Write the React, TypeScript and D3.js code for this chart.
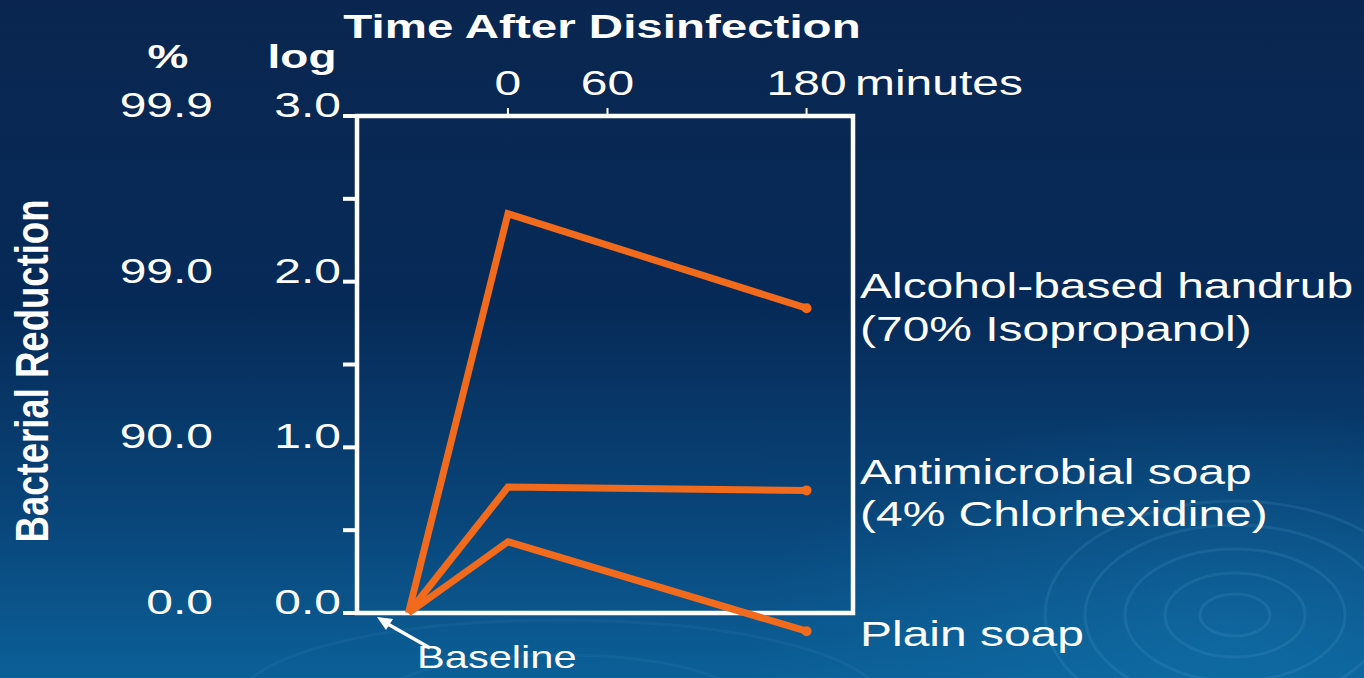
import React from "react";
import * as d3 from "d3";

// minutes after disinfection (-60 = baseline measurement)
const times = [-60, 0, 180];
const alcohol = [0, 2.41, 1.84];
const chlorhexidine = [0, 0.76, 0.74];
const plainSoap = [0, 0.43, -0.11];

const logTicks = [0, 1, 2, 3];
const pctLabels = ["0.0", "90.0", "99.0", "99.9"];
const minorTicks = [0, 0.5, 1, 1.5, 2, 2.5, 3];
const timeTicks = [0, 60, 180];

const seriesLabels = [
	["Alcohol-based handrub", "(70% Isopropanol)"],
	["Antimicrobial soap", "(4% Chlorhexidine)"],
	["Plain soap"],
];

const W = 1364;
const H = 678;
const SX = 1.37; // slide text is stretched horizontally
const FONT = "Liberation Sans, Arial, sans-serif";
const ORANGE = "#f26a1c";

const box = { left: 357, right: 853, top: 116, bottom: 613 };

function SText({ x, y, size, bold, anchor, sx, children }: any) {
	return (
		<g transform={`translate(${x},${y}) scale(${sx || SX},1)`}>
			<text
				fontFamily={FONT}
				fontSize={size}
				fontWeight={bold ? "bold" : "normal"}
				textAnchor={anchor || "start"}
				fill="#ffffff"
			>
				{children}
			</text>
		</g>
	);
}

export default function App() {
	const x = d3.scaleLinear().domain([-91, 208]).range([box.left, box.right]);
	const y = d3.scaleLinear().domain([0, 3]).range([box.bottom, box.top]);

	const line = d3
		.line<number>()
		.x((_, i) => x(times[i]))
		.y((d) => y(d));

	const series = [alcohol, chlorhexidine, plainSoap];
	const labelY = [[298, 341], [484, 526], [646]];

	return (
		<svg
			width={W}
			height={H}
			style={{ position: "fixed", left: 0, top: 0, display: "block" }}
		>
			<defs>
				<linearGradient id="bg" x1="0" y1="0" x2="0" y2="1">
					<stop offset="0" stopColor="#0a2650" />
					<stop offset="0.45" stopColor="#062a58" />
					<stop offset="0.75" stopColor="#094478" />
					<stop offset="1" stopColor="#0b6098" />
				</linearGradient>
				<radialGradient id="glow" cx="0.9" cy="0.95" r="0.35">
					<stop offset="0" stopColor="#1478b0" stopOpacity="0.45" />
					<stop offset="1" stopColor="#1478b0" stopOpacity="0" />
				</radialGradient>
			</defs>
			<rect width={W} height={H} fill="url(#bg)" />
			<rect width={W} height={H} fill="url(#glow)" />

			{/* faint rings, bottom right */}
			{[35, 70, 110, 150, 190].map((r, i) => (
				<ellipse
					key={i}
					cx={1235}
					cy={615}
					rx={r}
					ry={r * 0.6}
					fill="none"
					stroke="#6fb6e0"
					strokeOpacity={0.13}
					strokeWidth={3}
				/>
			))}
			{[90, 160].map((r, i) => (
				<ellipse
					key={"b" + i}
					cx={560}
					cy={700}
					rx={r * 2}
					ry={r * 0.5}
					fill="none"
					stroke="#6fb6e0"
					strokeOpacity={0.07}
					strokeWidth={3}
				/>
			))}

			{/* titles */}
			<SText x={602} y={38} size={33} bold anchor="middle" sx={1.44}>
				Time After Disinfection
			</SText>
			<SText x={168} y={68} size={34} bold anchor="middle" sx={1.35}>
				%
			</SText>
			<SText x={302} y={68} size={34} bold anchor="middle" sx={1.35}>
				log
			</SText>
			<g transform="translate(48,371) rotate(-90)">
				<text
					fontFamily={FONT}
					fontSize={46}
					fontWeight="bold"
					textAnchor="middle"
					fill="#ffffff"
					textLength={343}
					lengthAdjust="spacingAndGlyphs"
				>
					Bacterial Reduction
				</text>
			</g>

			{/* y tick labels */}
			{logTicks.map((t, i) => (
				<g key={t}>
					<SText x={213} y={y(t) + 1} size={35} anchor="end">
						{pctLabels[i]}
					</SText>
					<SText x={341} y={y(t) + 1} size={35} anchor="end">
						{t.toFixed(1)}
					</SText>
				</g>
			))}

			{/* top time labels */}
			{timeTicks.map((t) => (
				<g key={t}>
					<SText x={x(t)} y={95} size={35} anchor="middle">
						{t}
					</SText>
					<line
						x1={x(t)}
						x2={x(t)}
						y1={box.top - 8}
						y2={box.top}
						stroke="#ffffff"
						strokeWidth={2}
					/>
				</g>
			))}
			<SText x={855} y={95} size={35}>
				minutes
			</SText>

			{/* left ticks */}
			{minorTicks.map((t) => (
				<line
					key={t}
					x1={box.left - 14}
					x2={box.left}
					y1={y(t)}
					y2={y(t)}
					stroke="#ffffff"
					strokeWidth={4}
				/>
			))}

			{/* plot box */}
			<rect
				x={box.left}
				y={box.top}
				width={box.right - box.left}
				height={box.bottom - box.top}
				fill="none"
				stroke="#ffffff"
				strokeWidth={4.5}
			/>

			{/* series */}
			{series.map((s, i) => (
				<g key={i}>
					<path
						d={line(s) || ""}
						fill="none"
						stroke={ORANGE}
						strokeWidth={7}
						strokeLinejoin="miter"
					/>
					<circle
						cx={x(times[times.length - 1])}
						cy={y(s[s.length - 1])}
						r={5}
						fill={ORANGE}
					/>
				</g>
			))}

			{/* series labels */}
			{seriesLabels.map((lines, i) =>
				lines.map((l, j) => (
					<SText key={i + "-" + j} x={860} y={labelY[i][j]} size={35}>
						{l}
					</SText>
				))
			)}

			{/* baseline annotation */}
			<line
				x1={430}
				y1={648}
				x2={386}
				y2={623}
				stroke="#ffffff"
				strokeWidth={3.5}
			/>
			<path d="M377,617 L393,619 L386,630 Z" fill="#ffffff" />
			<SText x={417} y={668} size={32} sx={1.3}>
				Baseline
			</SText>
		</svg>
	);
}
